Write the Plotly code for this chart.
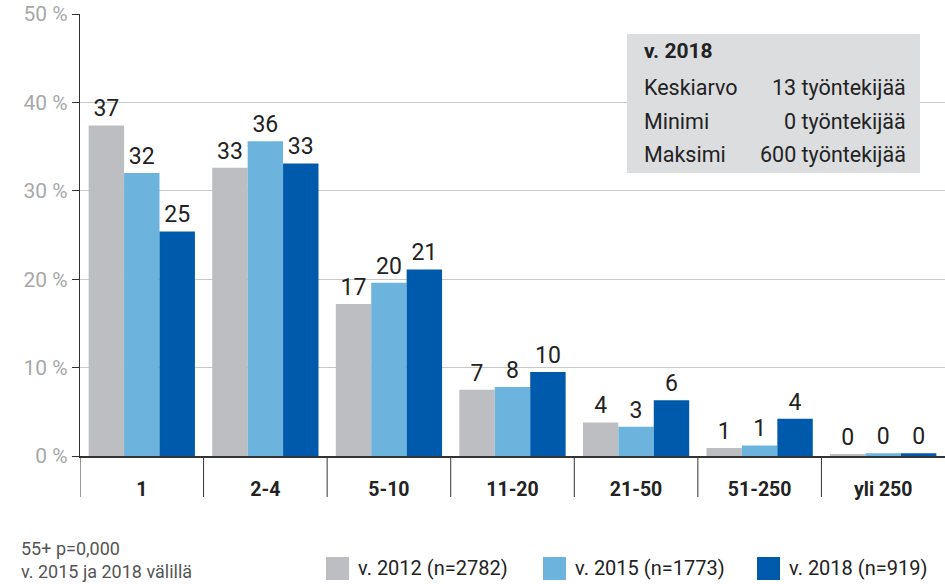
import plotly.graph_objects as go

categories = ["1", "2-4", "5-10", "11-20", "21-50", "51-250", "yli 250"]
series_names = ["v. 2012 (n=2782)", "v. 2015 (n=1773)", "v. 2018 (n=919)"]
values_2012 = [37.4, 32.6, 17.2, 7.5, 3.8, 0.9, 0.2]
values_2015 = [32.0, 35.6, 19.6, 7.8, 3.3, 1.2, 0.3]
values_2018 = [25.4, 33.1, 21.1, 9.5, 6.3, 4.2, 0.3]
labels_2012 = ["37", "33", "17", "7", "4", "1", "0"]
labels_2015 = ["32", "36", "20", "8", "3", "1", "0"]
labels_2018 = ["25", "33", "21", "10", "6", "4", "0"]
colors = ["#bdbec2", "#6cb4de", "#005aab"]

info_title = "v. 2018"
info_rows = [("Keskiarvo", "13 työntekijää"), ("Minimi", "0 työntekijää"), ("Maksimi", "600 työntekijää")]
footnote = ["55+ p=0,000", "v. 2015 ja 2018 välillä"]

FONT = "Roboto"
fig = go.Figure()
for name, vals, labs, col in zip(series_names,
                                 [values_2012, values_2015, values_2018],
                                 [labels_2012, labels_2015, labels_2018], colors):
    fig.add_trace(go.Bar(x=categories, y=vals, name=name, marker_color=col,
                         marker_line_width=0, text=labs, textposition="outside",
                         textfont=dict(size=23, color="#222222", family=FONT),
                         cliponaxis=False, showlegend=False))

W, H = 945, 584
L, R, T, B = 80, 0, 14, 128
pw, ph = W - L - R, H - T - B

def px_x(x):
    return (x - L) / pw

def px_y(y):
    return (H - B - y) / ph

shapes = []
for k in range(len(categories)):
    shapes.append(dict(type="line", xref="x", yref="paper", x0=k - 0.5, x1=k - 0.5,
                       y0=0, y1=px_y(497), line=dict(color="#333333", width=1)))
# info box
shapes.append(dict(type="rect", xref="paper", yref="paper", x0=px_x(627), x1=px_x(920),
                   y0=px_y(173), y1=px_y(34), fillcolor="#dcdddf", line=dict(width=0),
                   layer="above"))
annotations = []
annotations.append(dict(xref="paper", yref="paper", x=px_x(642), y=px_y(51), text="<b>" + info_title + "</b>",
                        showarrow=False, xanchor="left", yanchor="middle",
                        font=dict(size=21, color="#222222", family=FONT)))
for i, (a, b) in enumerate(info_rows):
    yy = px_y(88 + 33 * i)
    annotations.append(dict(xref="paper", yref="paper", x=px_x(642), y=yy, text=a, showarrow=False,
                            xanchor="left", yanchor="middle", font=dict(size=21.5, color="#222222", family=FONT)))
    annotations.append(dict(xref="paper", yref="paper", x=px_x(908), y=yy, text=b, showarrow=False,
                            xanchor="right", yanchor="middle", font=dict(size=21.5, color="#222222", family=FONT)))
# footnote
for i, t in enumerate(footnote):
    annotations.append(dict(xref="paper", yref="paper", x=px_x(19), y=px_y(548 + 23 * i), text=t,
                            showarrow=False, xanchor="left", yanchor="middle",
                            font=dict(size=18, color="#555555", family=FONT)))
# legend (manual)
leg_x = [326, 543, 757]
for name, col, lx in zip(series_names, colors, leg_x):
    shapes.append(dict(type="rect", xref="paper", yref="paper", x0=px_x(lx), x1=px_x(lx + 23),
                       y0=px_y(580), y1=px_y(557), fillcolor=col, line=dict(width=0)))
    annotations.append(dict(xref="paper", yref="paper", x=px_x(lx + 30), y=px_y(568), text=name,
                            showarrow=False, xanchor="left", yanchor="middle",
                            font=dict(size=20, color="#222222", family=FONT)))

fig.update_layout(
    width=W, height=H, margin=dict(l=L, r=R, t=T, b=B, autoexpand=False),
    paper_bgcolor="white", plot_bgcolor="white",
    barmode="group", bargap=0.14, bargroupgap=0,
    shapes=shapes, annotations=annotations,
    font=dict(family=FONT),
    xaxis=dict(showline=True, linecolor="#333333", linewidth=1.5, ticks="outside", ticklen=15,
               tickcolor="rgba(0,0,0,0)", tickfont=dict(size=19.5, color="#222222", family=FONT),
               tickprefix="<b>", ticksuffix="</b>", range=[-0.5, 6.5], automargin=False),
    yaxis=dict(range=[0, 50], dtick=10, ticksuffix=" %", showline=True, linecolor="#333333",
               linewidth=1.2, ticks="outside", ticklen=7, tickcolor="#333333",
               gridcolor="#c8c8c8", gridwidth=1, zeroline=False, automargin=False,
               tickfont=dict(size=21, color="#a8a8a8", family=FONT)),
)
fig.write_html("out.html", post_script="document.body.style.margin='0';",
               config={"displayModeBar": False})
